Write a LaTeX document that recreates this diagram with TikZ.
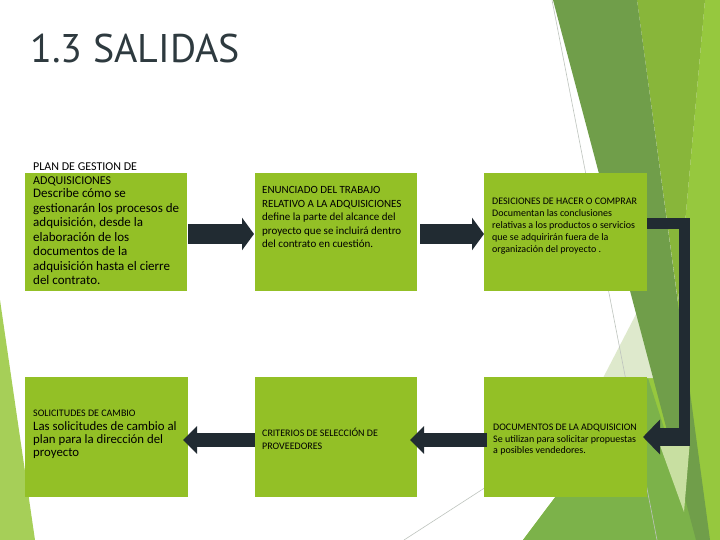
\documentclass[tikz,border=0pt]{standalone}
\usepackage{fontspec}
\setmainfont{Carlito}
\newfontfamily\titlefont{PT Sans}
\usetikzlibrary{arrows.meta}
\definecolor{boxgreen}{RGB}{147,192,38}
\definecolor{arrowdark}{RGB}{33,43,50}
\definecolor{titlegray}{RGB}{46,58,63}
\definecolor{facetdark}{RGB}{112,158,74}
\definecolor{facetmid}{RGB}{136,182,58}
\definecolor{facetbright}{RGB}{150,200,62}
\definecolor{facetpale}{RGB}{222,233,204}
\definecolor{facetlow}{RGB}{124,178,74}
\definecolor{leftpale}{RGB}{166,207,88}
\definecolor{thinline}{RGB}{190,196,190}
\begin{document}
\begin{tikzpicture}[x=1pt,y=-1pt,
  greenbox/.style={fill=boxgreen, draw=none, minimum width=162pt, minimum height=118pt, inner sep=0pt, outer sep=0pt},
  fatarrow/.style={draw=arrowdark, line width=20pt, -{Triangle[length=12pt,width=32pt]}},
  slimarrow/.style={draw=arrowdark, line width=14pt, -{Triangle[length=14pt,width=27pt]}},
  txt/.style={anchor=north west, inner sep=0pt, align=left, text=black}]
\useasboundingbox (0,0) rectangle (720,540);
\fill[white] (0,0) rectangle (720,540);
% background facets
\fill[leftpale] (0,300) -- (35,540) -- (0,540) -- cycle;
\fill[facetbright] (705,0) -- (720,0) -- (720,540) -- (523,540) -- (647,375) -- (678,302) -- cycle;
\fill[facetlow] (523,540) -- (647,375) -- (700,540) -- cycle;
\fill[facetmid] (637,0) -- (705,0) -- (678,302) -- cycle;
\fill[facetpale] (648,291) -- (603,378) -- (660,378) -- cycle;
\fill[facetdark] (553,0) -- (637,0) -- (710,540) -- (696,540) -- cycle;
\fill[facetpale!70!facetbright] (658,440) -- (690,440) -- (684,512) -- cycle;
\draw[thinline, line width=0.6pt] (552,0) -- (657,540);
\draw[thinline, line width=0.6pt] (404,540) -- (500,478);
% boxes
\node[greenbox] (b1) at (106,232) {};
\node[greenbox] (b2) at (336,232) {};
\node[greenbox, minimum width=163pt] (b3) at (565.5,232) {};
\node[greenbox, minimum width=163pt, minimum height=120pt] (b4) at (106.5,437) {};
\node[greenbox, minimum height=120pt] (b5) at (336,437) {};
\node[greenbox, minimum width=163pt, minimum height=120pt] (b6) at (565.5,437) {};
% arrows
\draw[fatarrow] ([xshift=1pt,yshift=-2pt]b1.east) -- ([xshift=-1pt,yshift=-2pt]b2.west);
\draw[fatarrow] ([xshift=3pt,yshift=-2pt]b2.east) -- ([yshift=-2pt]b3.west);
\draw[slimarrow] ([yshift=-3pt]b5.west) -- ([xshift=-5pt,yshift=-3pt]b4.east);
\draw[slimarrow] ([xshift=3pt,yshift=-3pt]b6.west) -- ([xshift=-7pt,yshift=-3pt]b5.east);
\coordinate (e1) at (684.5,223.5);
\coordinate (e2) at (684.5,445);
\coordinate (e3) at (690,437);
\draw[draw=arrowdark, line width=11pt, line join=miter] (b3.east |- e1) -- (e1) -- (e2);
\draw[draw=arrowdark, line width=18pt, -{Triangle[length=17pt,width=34pt]}] (e3) -- ([xshift=-4pt]b6.east);
% title
\node[anchor=base west, inner sep=0pt, font=\titlefont\fontsize{40}{48}\selectfont, text=titlegray] (title) at (30,63) {1.3 SALIDAS};
% texts
\node[txt, font=\fontsize{12}{14}\selectfont] (t1a) at (33,162.3) {PLAN DE GESTION DE\\ADQUISICIONES};
\node[txt, font=\fontsize{13}{14.5}\selectfont] (t1b) at (33,188.5) {Describe cómo se\\gestionarán los procesos de\\adquisición, desde la\\elaboración de los\\documentos de la\\adquisición hasta el cierre\\del contrato.};
\node[txt, font=\fontsize{11}{13.5}\selectfont] (t2) at (262,186.5) {ENUNCIADO DEL TRABAJO\\RELATIVO A LA ADQUISICIONES\\define la parte del alcance del\\proyecto que se incluirá dentro\\del contrato en cuestión.};
\node[txt, font=\fontsize{10}{12}\selectfont] (t3) at (492,198) {DESICIONES DE HACER O COMPRAR\\Documentan las conclusiones\\relativas a los productos  o servicios\\que se adquirirán fuera de la\\organización del proyecto .};
\node[txt, font=\fontsize{10}{13}\selectfont] (t4a) at (33,409.6) {SOLICITUDES DE CAMBIO};
\node[txt, font=\fontsize{12.8}{12.75}\selectfont] (t4b) at (33,421.5) {Las solicitudes de cambio al\\plan para la dirección del\\proyecto};
\node[txt, font=\fontsize{10}{13.5}\selectfont] (t5) at (262,427.5) {CRITERIOS DE SELECCIÓN DE\\PROVEEDORES};
\node[txt, font=\fontsize{10}{11.5}\selectfont] (t6) at (493,424) {DOCUMENTOS DE LA ADQUISICION\\Se utilizan para solicitar propuestas\\a posibles vendedores.};
\end{tikzpicture}
\end{document}
